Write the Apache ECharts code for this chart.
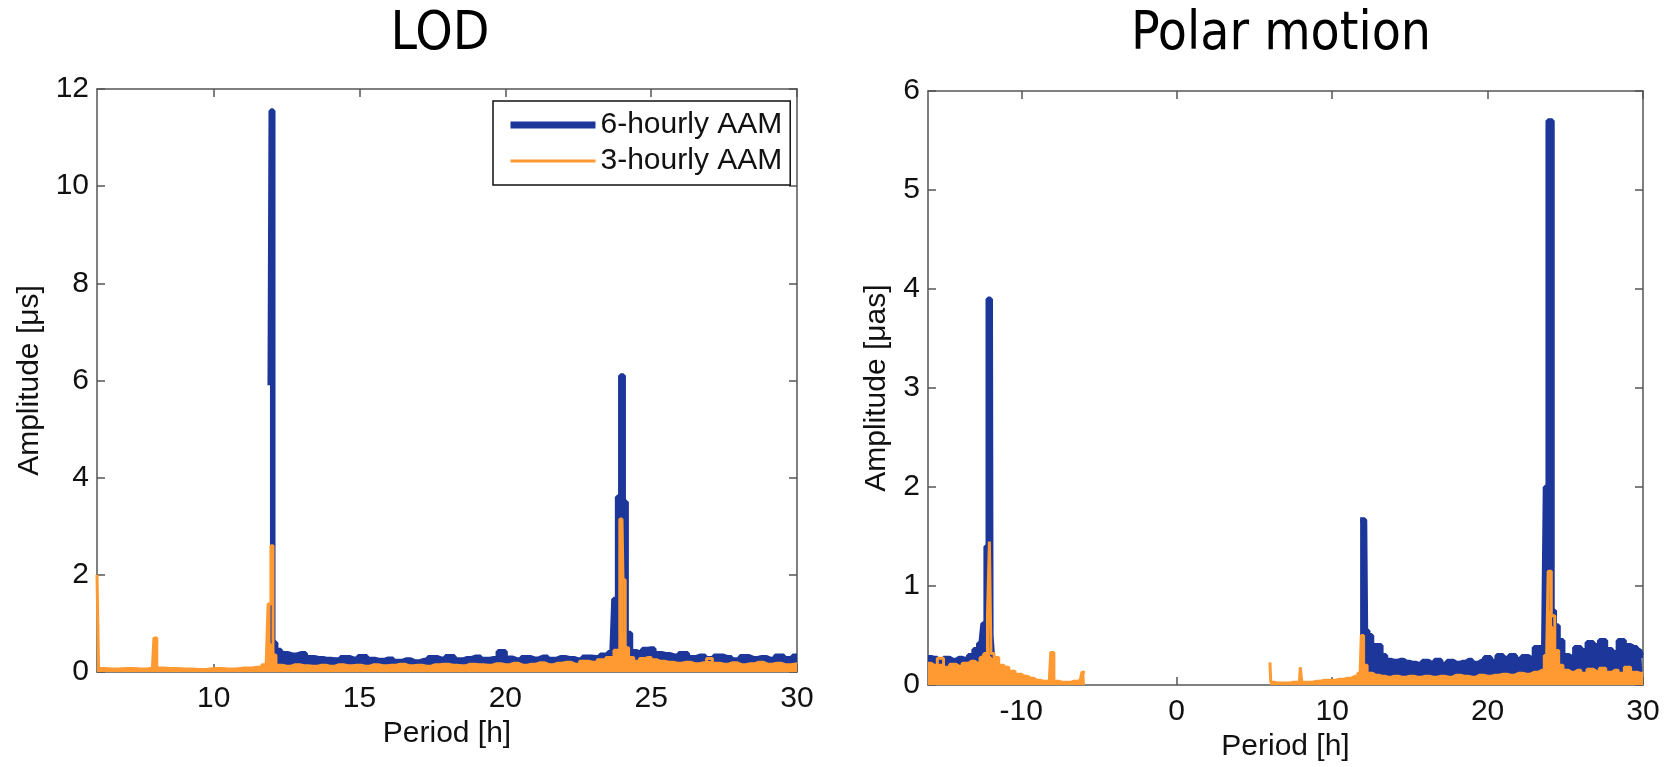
<!DOCTYPE html>
<html>
<head>
<meta charset="utf-8">
<title>LOD / Polar motion spectra</title>
<script src="https://cdn.jsdelivr.net/npm/echarts@6/dist/echarts.min.js"></script>
<style>
  html, body { margin: 0; padding: 0; background: #fff; }
  #chart { width: 1674px; height: 767px; }
</style>
</head>
<body>
<div id="chart"></div>
<script>
// [period h, amplitude]
const lod6h = [
  [11.93, 5.9], [12.0, 11.55], [12.07, 0.6], [12.2, 0.45], [12.4, 0.38], [12.7, 0.35],
  [13.0, 0.38], [13.3, 0.3], [13.6, 0.28], [13.9, 0.26], [14.2, 0.25], [14.5, 0.3],
  [14.8, 0.27], [15.1, 0.32], [15.4, 0.26], [15.7, 0.24], [16.0, 0.27], [16.3, 0.22],
  [16.6, 0.25], [16.9, 0.21], [17.2, 0.24], [17.5, 0.3], [17.8, 0.27], [18.1, 0.32],
  [18.4, 0.25], [18.7, 0.28], [19.0, 0.31], [19.3, 0.26], [19.6, 0.28], [19.9, 0.42],
  [20.1, 0.29], [20.4, 0.25], [20.7, 0.3], [21.0, 0.27], [21.3, 0.31], [21.6, 0.26],
  [21.9, 0.3], [22.2, 0.28], [22.5, 0.25], [22.8, 0.31], [23.1, 0.3], [23.4, 0.35],
  [23.65, 0.4], [23.78, 1.5], [23.9, 3.6], [24.0, 6.1], [24.1, 3.5], [24.2, 0.8],
  [24.4, 0.42], [24.6, 0.4], [24.8, 0.47], [25.0, 0.48], [25.2, 0.38], [25.5, 0.36],
  [25.8, 0.33], [26.1, 0.38], [26.4, 0.3], [26.7, 0.33], [27.0, 0.28], [27.3, 0.33],
  [27.6, 0.3], [27.9, 0.25], [28.2, 0.32], [28.5, 0.28], [28.8, 0.3], [29.1, 0.26],
  [29.4, 0.33], [29.7, 0.28], [30.0, 0.33]
];
const lod3h = [
  [6.0, 2.0], [6.03, 2.0], [6.08, 0.07], [6.5, 0.06], [7.0, 0.07], [7.5, 0.06],
  [7.9, 0.08], [8.0, 0.7], [8.1, 0.08], [8.5, 0.07], [9.0, 0.06], [9.5, 0.05],
  [10.0, 0.07], [10.5, 0.06], [11.0, 0.08], [11.5, 0.1], [11.8, 0.15], [11.93, 1.4],
  [12.0, 2.6], [12.07, 0.35], [12.2, 0.14], [12.5, 0.12], [12.8, 0.15], [13.1, 0.13],
  [13.4, 0.12], [13.7, 0.14], [14.0, 0.12], [14.3, 0.15], [14.6, 0.13], [14.9, 0.14],
  [15.2, 0.12], [15.5, 0.15], [15.8, 0.13], [16.1, 0.14], [16.4, 0.16], [16.7, 0.13],
  [17.0, 0.14], [17.3, 0.12], [17.6, 0.15], [17.9, 0.16], [18.2, 0.14], [18.5, 0.13],
  [18.8, 0.16], [19.1, 0.15], [19.4, 0.14], [19.7, 0.17], [20.0, 0.15], [20.3, 0.18],
  [20.6, 0.14], [20.9, 0.16], [21.2, 0.19], [21.5, 0.15], [21.8, 0.18], [22.1, 0.2],
  [22.4, 0.16], [22.7, 0.22], [23.0, 0.2], [23.3, 0.25], [23.6, 0.3], [23.85, 0.45],
  [24.0, 3.15], [24.07, 1.9], [24.15, 0.5], [24.3, 0.3], [24.5, 0.22], [24.7, 0.28],
  [24.9, 0.3], [25.1, 0.25], [25.3, 0.22], [25.6, 0.2], [25.9, 0.18], [26.2, 0.2],
  [26.5, 0.17], [26.8, 0.19], [27.0, 0.28], [27.2, 0.18], [27.5, 0.16], [27.8, 0.19],
  [28.1, 0.15], [28.4, 0.17], [28.7, 0.2], [29.0, 0.16], [29.3, 0.18], [29.6, 0.15],
  [30.0, 0.17]
];
const pm6hNeg = [
  [-16.0, 0.28], [-15.6, 0.27], [-15.2, 0.24], [-14.8, 0.27], [-14.4, 0.25], [-14.0, 0.27],
  [-13.6, 0.26], [-13.2, 0.3], [-12.9, 0.36], [-12.6, 0.42], [-12.35, 0.62], [-12.2, 1.4],
  [-12.08, 3.9], [-11.98, 3.9], [-11.9, 0.5], [-11.8, 0.3]
];
const pm6hPos = [
  [11.8, 1.67], [11.95, 1.67], [12.1, 1.67], [12.22, 0.55], [12.4, 0.5], [12.7, 0.4],
  [13.0, 0.4], [13.3, 0.3], [13.6, 0.25], [14.0, 0.24], [14.4, 0.25], [14.8, 0.23],
  [15.2, 0.22], [15.6, 0.21], [16.0, 0.24], [16.4, 0.22], [16.8, 0.25], [17.2, 0.21],
  [17.6, 0.24], [18.0, 0.22], [18.4, 0.23], [18.8, 0.25], [19.2, 0.22], [19.6, 0.24],
  [20.0, 0.28], [20.4, 0.24], [20.8, 0.3], [21.2, 0.27], [21.6, 0.3], [22.0, 0.26],
  [22.4, 0.29], [22.8, 0.27], [23.2, 0.38], [23.6, 0.37], [23.82, 2.0], [23.95, 5.7],
  [24.1, 5.7], [24.22, 0.75], [24.4, 0.6], [24.7, 0.45], [25.0, 0.3], [25.4, 0.28],
  [25.8, 0.38], [26.2, 0.35], [26.6, 0.43], [27.0, 0.4], [27.4, 0.45], [27.8, 0.36],
  [28.2, 0.33], [28.6, 0.45], [29.0, 0.4], [29.4, 0.38], [29.8, 0.35], [30.0, 0.3]
];
const pm3hNeg = [
  [-16.0, 0.22], [-15.6, 0.2], [-15.2, 0.27], [-14.8, 0.18], [-14.4, 0.21], [-14.0, 0.19],
  [-13.6, 0.22], [-13.2, 0.24], [-12.8, 0.22], [-12.5, 0.28], [-12.25, 0.32], [-12.1, 0.7],
  [-12.0, 1.45], [-11.9, 0.32], [-11.6, 0.28], [-11.3, 0.2], [-11.0, 0.18], [-10.6, 0.14],
  [-10.2, 0.11], [-9.8, 0.09], [-9.4, 0.07], [-9.0, 0.05], [-8.6, 0.04], [-8.2, 0.04],
  [-8.0, 0.33], [-7.8, 0.04], [-7.4, 0.03], [-7.0, 0.03], [-6.6, 0.04], [-6.2, 0.05],
  [-6.0, 0.13], [-5.9, 0.13]
];
const pm3hPos = [
  [6.0, 0.23], [6.1, 0.03], [6.5, 0.02], [7.0, 0.02], [7.5, 0.03], [7.9, 0.03],
  [8.0, 0.18], [8.1, 0.03], [8.5, 0.03], [9.0, 0.04], [9.5, 0.05], [10.0, 0.05],
  [10.5, 0.06], [11.0, 0.07], [11.5, 0.09], [11.8, 0.12], [11.95, 0.5], [12.1, 0.2],
  [12.4, 0.12], [12.8, 0.1], [13.2, 0.09], [13.6, 0.08], [14.0, 0.09], [14.5, 0.08],
  [15.0, 0.09], [15.5, 0.08], [16.0, 0.09], [16.5, 0.08], [17.0, 0.09], [17.5, 0.08],
  [18.0, 0.1], [18.5, 0.09], [19.0, 0.08], [19.5, 0.1], [20.0, 0.09], [20.5, 0.1],
  [21.0, 0.11], [21.5, 0.1], [22.0, 0.12], [22.5, 0.11], [23.0, 0.13], [23.5, 0.15],
  [23.8, 0.3], [24.0, 1.15], [24.2, 0.7], [24.45, 0.35], [24.7, 0.2], [25.0, 0.15],
  [25.4, 0.13], [25.8, 0.15], [26.2, 0.12], [26.6, 0.16], [27.0, 0.14], [27.4, 0.17],
  [27.8, 0.13], [28.2, 0.15], [28.6, 0.12], [29.0, 0.18], [29.4, 0.13], [29.8, 0.12],
  [30.0, 0.12]
];

const lodTicks = [10, 15, 20, 25, 30];
const pmTicks = [-10, 0, 10, 20, 30];

const BLUE = "#1c3699";
const ORANGE = "#ff9a33";
const AXIS = "#555";
const FONT = "'Liberation Sans', Arial, sans-serif";
const TITLE_FONT = "'DejaVu Sans Condensed', 'DejaVu Sans', sans-serif";

const chart = echarts.init(document.getElementById("chart"));

function xAx(grid, min, max, ticks, top, name, gap) {
  return {
    type: "value", gridIndex: grid, min: min, max: max,
    position: top ? "top" : "bottom",
    axisLine: { onZero: false, lineStyle: { color: AXIS, width: 1.5 } },
    axisTick: { inside: true, length: 8, customValues: ticks, lineStyle: { color: AXIS, width: 1.5 } },
    axisLabel: { show: !top, customValues: ticks, color: "#111", fontSize: 30, fontFamily: FONT, margin: 12 },
    splitLine: { show: false },
    name: top ? "" : name, nameLocation: "middle", nameGap: gap,
    nameTextStyle: { color: "#111", fontSize: 30, fontFamily: FONT },
  };
}

function yAx(grid, max, interval, right, name, gap) {
  return {
    type: "value", gridIndex: grid, min: 0, max: max, interval: interval,
    position: right ? "right" : "left",
    axisLine: { show: true, onZero: false, lineStyle: { color: AXIS, width: 1.5 } },
    axisTick: { show: true, inside: true, length: 8, lineStyle: { color: AXIS, width: 1.5 } },
    axisLabel: { show: !right, color: "#111", fontSize: 30, fontFamily: FONT, margin: 8 },
    splitLine: { show: false },
    name: right ? "" : name, nameLocation: "middle", nameGap: gap,
    nameTextStyle: { color: "#111", fontSize: 30, fontFamily: FONT },
  };
}

function spec(name, data, color, width, xi, yi) {
  return {
    name: name, type: "line", data: data, step: "middle",
    xAxisIndex: xi, yAxisIndex: yi,
    symbol: "none", animation: false,
    lineStyle: { color: color, width: width },
    itemStyle: { color: color },
    areaStyle: { color: color, opacity: 1 },
  };
}

chart.setOption({
  backgroundColor: "#fff",
  title: [
    { text: "LOD", left: 435, top: 4, textAlign: "center",
      textStyle: { fontFamily: TITLE_FONT, fontSize: 53, fontWeight: "normal", color: "#000" } },
    { text: "Polar motion", left: 1276, top: 4, textAlign: "center",
      textStyle: { fontFamily: TITLE_FONT, fontSize: 53, fontWeight: "normal", color: "#000" } },
  ],
  legend: {
    orient: "vertical", left: 493, top: 101,
    padding: [9, 8, 9, 14], itemGap: 6,
    itemWidth: 85, itemHeight: 14,
    backgroundColor: "#fff", borderColor: "#111", borderWidth: 1.5,
    textStyle: { fontSize: 30, fontFamily: FONT, color: "#111" },
    data: [
      { name: "6-hourly AAM", itemStyle: { color: BLUE, opacity: 0 }, lineStyle: { color: BLUE, width: 7 } },
      { name: "3-hourly AAM", itemStyle: { color: ORANGE, opacity: 0 }, lineStyle: { color: ORANGE, width: 3 } },
    ],
  },
  grid: [
    { left: 97, top: 89, width: 700, height: 583 },
    { left: 928, top: 91, width: 715, height: 595 },
  ],
  xAxis: [
    xAx(0, 6, 30, lodTicks, false, "Period [h]", 40),
    xAx(0, 6, 30, lodTicks, true),
    xAx(1, -16, 30, pmTicks, false, "Period [h]", 42),
    xAx(1, -16, 30, pmTicks, true),
  ],
  yAxis: [
    yAx(0, 12, 2, false, "Amplitude [μs]", 52),
    yAx(0, 12, 2, true),
    yAx(1, 6, 1, false, "Amplitude [μas]", 36),
    yAx(1, 6, 1, true),
  ],
  series: [
    spec("6-hourly AAM", lod6h, BLUE, 5, 0, 0),
    spec("3-hourly AAM", lod3h, ORANGE, 3, 0, 0),
    spec("pm6hNeg", pm6hNeg, BLUE, 5, 2, 2),
    spec("pm6hPos", pm6hPos, BLUE, 5, 2, 2),
    spec("pm3hNeg", pm3hNeg, ORANGE, 3, 2, 2),
    spec("pm3hPos", pm3hPos, ORANGE, 3, 2, 2),
  ],
});
</script>
</body>
</html>
